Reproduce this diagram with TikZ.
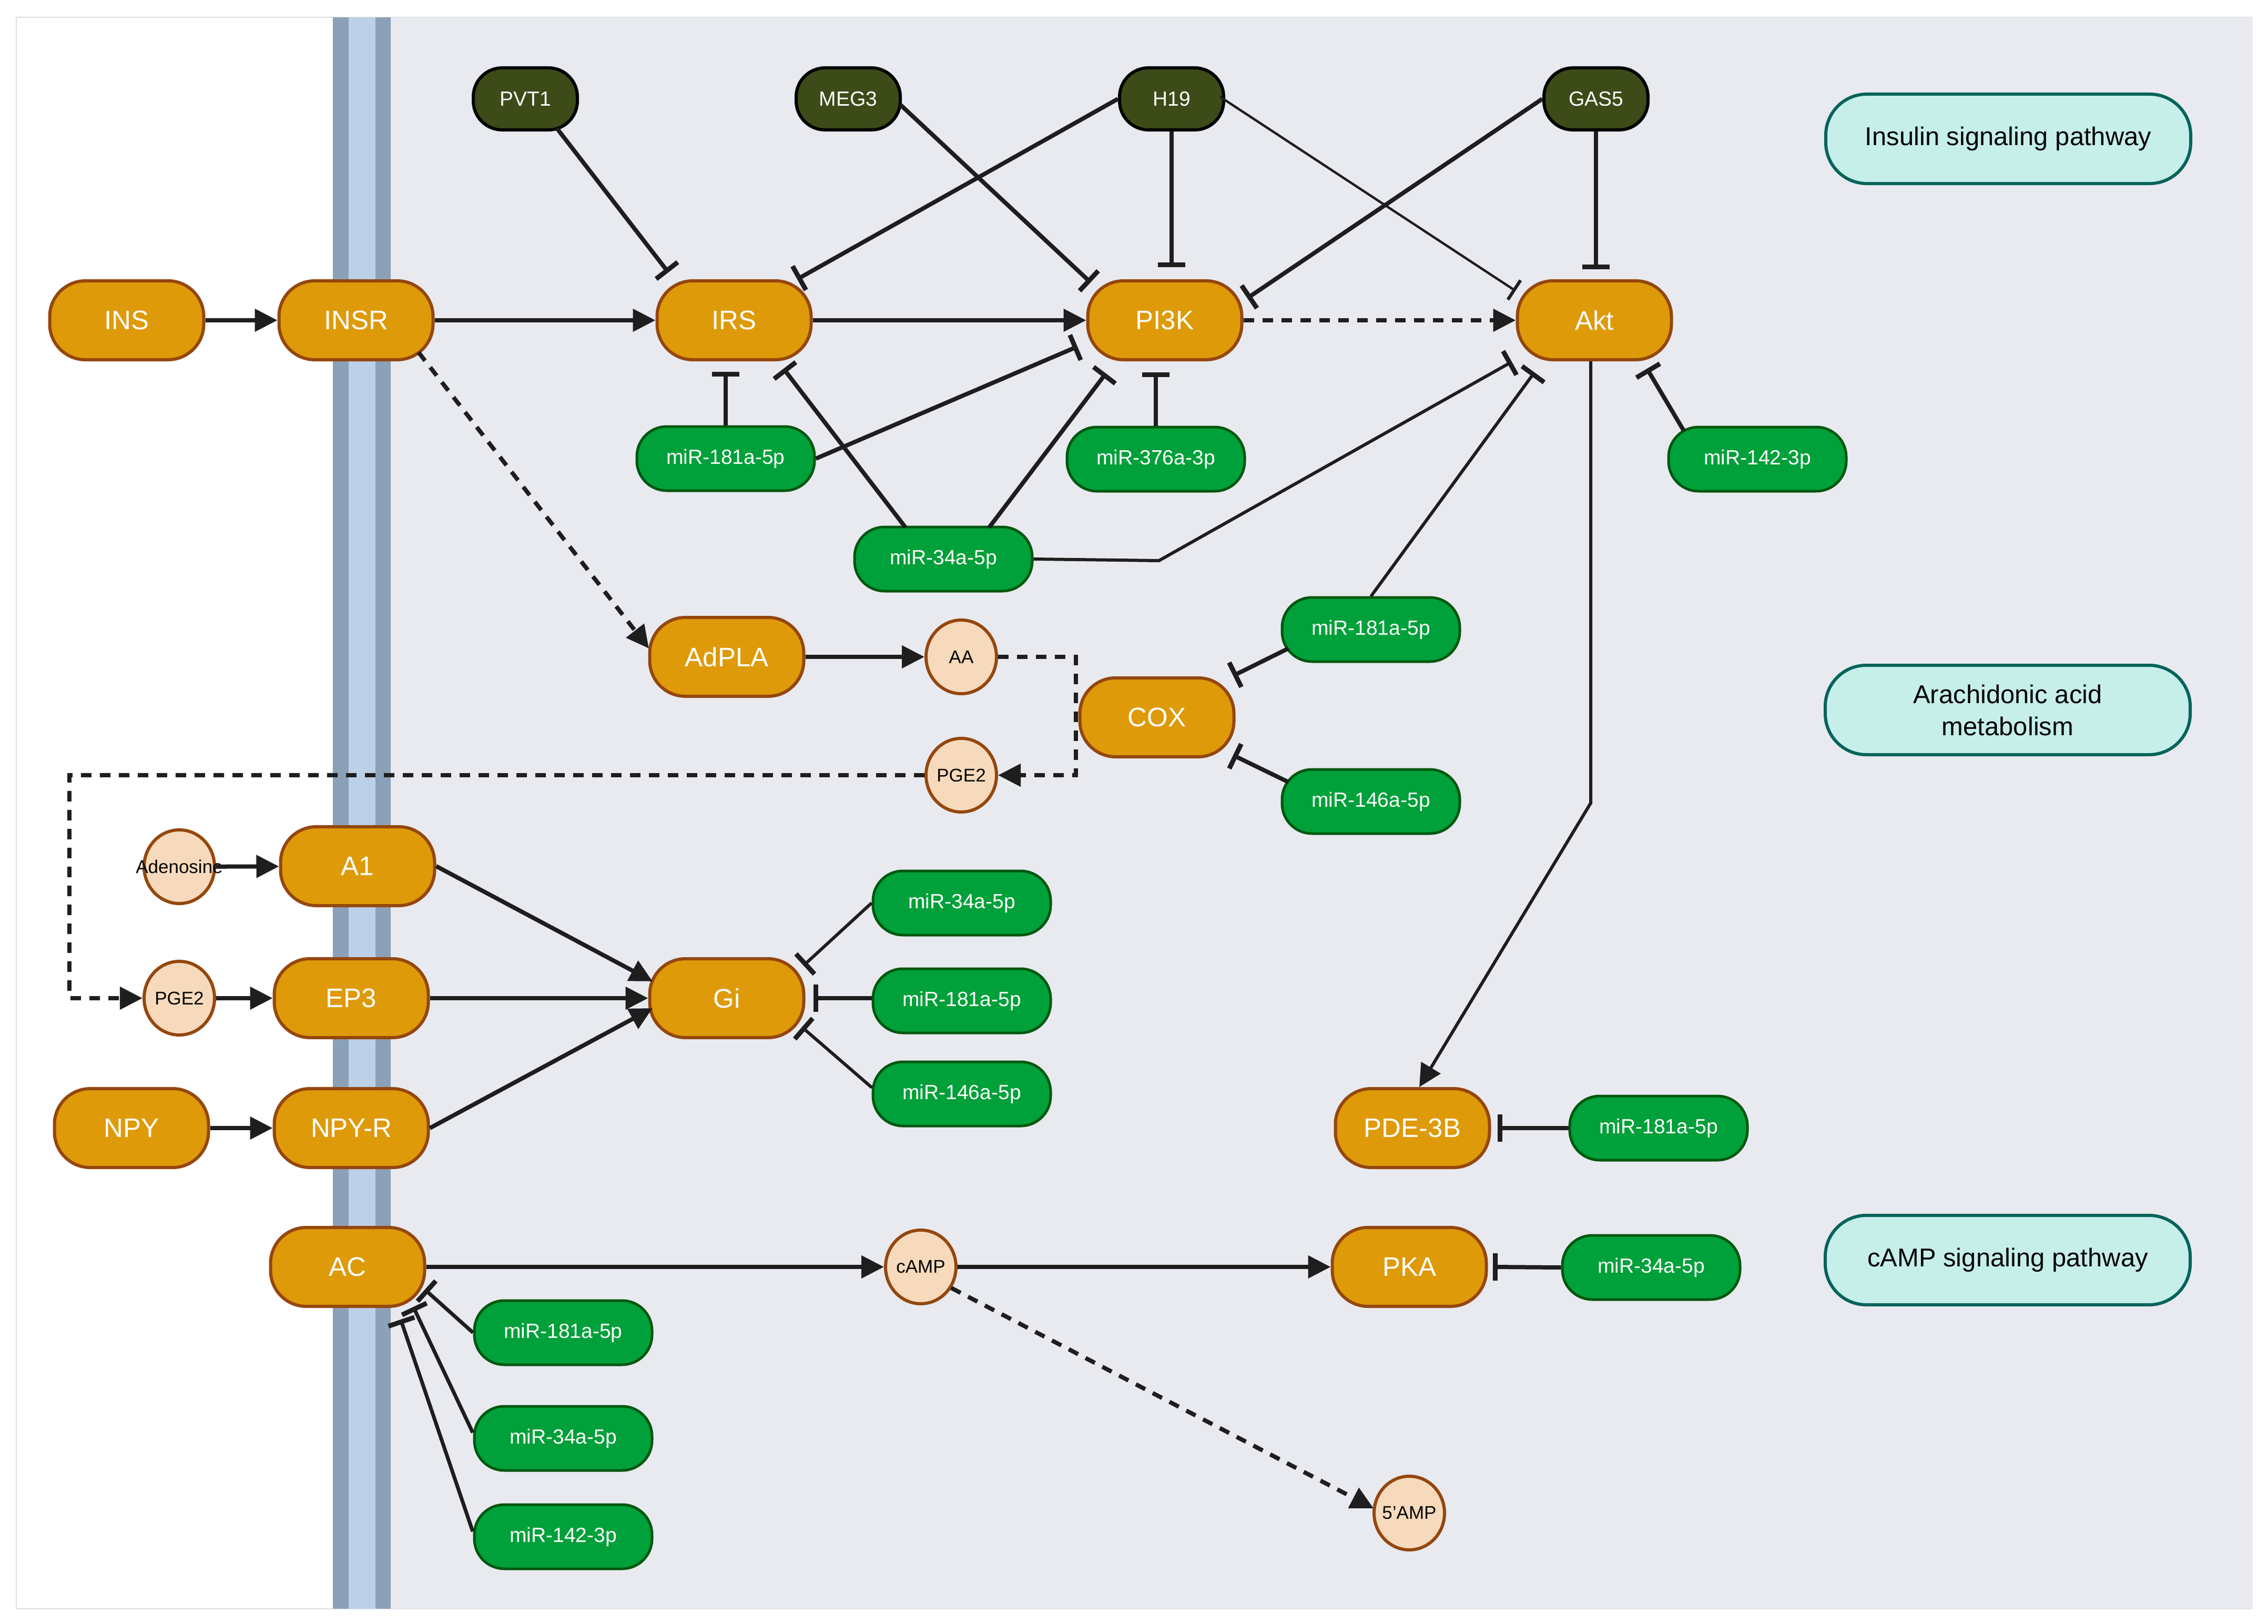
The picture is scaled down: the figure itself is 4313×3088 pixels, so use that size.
\documentclass[tikz,border=0pt]{standalone}
\usepackage{fontspec}
\setmainfont{Liberation Sans}
\usetikzlibrary{arrows.meta,calc,shapes.geometric}
\definecolor{orng}{HTML}{DE9A08}
\definecolor{obrd}{HTML}{94470E}
\definecolor{mgrn}{HTML}{00A03A}
\definecolor{dgrn}{HTML}{00570F}
\definecolor{oliv}{HTML}{3C4B18}
\definecolor{peach}{HTML}{F6DABB}
\definecolor{tealf}{HTML}{C6EFEA}
\definecolor{tealb}{HTML}{05645A}
\definecolor{bgg}{HTML}{E8EAF0}
\definecolor{memd}{HTML}{8BA1B7}
\definecolor{meml}{HTML}{BCD0E7}
\definecolor{lc}{HTML}{1E1E1E}
\definecolor{panelb}{HTML}{DDDDDD}
\begin{document}
\begin{tikzpicture}[x=1pt,y=-1pt,
  prot/.style={draw=obrd, fill=orng, line width=6pt, rounded corners=68pt,
    minimum width=293pt, minimum height=150pt, inner sep=0pt, text=white,
    font=\fontsize{51}{60}\selectfont},
  mir/.style={draw=dgrn, fill=mgrn, line width=5pt, rounded corners=57pt,
    minimum width=338pt, minimum height=122pt, inner sep=0pt, text=white,
    font=\fontsize{39}{46}\selectfont},
  lnc/.style={draw=black, fill=oliv, line width=6pt, rounded corners=55pt,
    minimum width=198pt, minimum height=118pt, inner sep=0pt, text=white,
    font=\fontsize{39}{46}\selectfont},
  met/.style={ellipse, draw=obrd, fill=peach, line width=6pt,
    minimum width=134pt, minimum height=140pt, inner sep=0pt, text=black,
    font=\fontsize{35}{42}\selectfont},
  lab/.style={draw=tealb, fill=tealf, line width=6pt, rounded corners=78pt,
    minimum width=694pt, minimum height=170pt, inner sep=0pt, align=center,
    text=black, font=\fontsize{49}{61}\selectfont},
  act/.style={line width=8pt, draw=lc, -{Triangle[length=43pt,width=42pt]}},
  inh/.style={line width=8pt, draw=lc, -{Bar[width=52pt,line width=9pt]}},
  thinh/.style={line width=4.5pt, draw=lc, -{Bar[width=44pt,line width=6pt]}},
  dsh/.style={dash pattern=on 20pt off 16pt}
]
\useasboundingbox (0,0) rectangle (4313,3088);
\fill[white] (0,0) rectangle (4313,3088);
\draw[draw=panelb, line width=2pt, fill=white] (31,33) rectangle (4282,3059);
\fill[bgg] (743,33) rectangle (4282,3059);
\fill[memd] (633,33) rectangle (743,3059);
\fill[meml] (663,33) rectangle (714,3059);

% proteins
\node[prot] (INS) at (241,609) {INS};
\node[prot] (INSR) at (677,609) {INSR};
\node[prot] (IRS) at (1396,609) {IRS};
\node[prot] (PI3K) at (2215,609) {PI3K};
\node[prot] (Akt) at (3032,609) {Akt};
\node[prot] (AdPLA) at (1382,1249) {AdPLA};
\node[prot] (COX) at (2200,1364) {COX};
\node[prot] (A1) at (680,1647) {A1};
\node[prot] (EP3) at (668,1898) {EP3};
\node[prot] (Gi) at (1382,1898) {Gi};
\node[prot] (NPY) at (250,2145) {NPY};
\node[prot] (NPYR) at (668,2145) {NPY-R};
\node[prot] (PDE) at (2686,2145) {PDE-3B};
\node[prot] (AC) at (661,2409) {AC};
\node[prot] (PKA) at (2680,2409) {PKA};

% lncRNAs
\node[lnc] (PVT1) at (999,188) {PVT1};
\node[lnc] (MEG3) at (1613,188) {MEG3};
\node[lnc] (H19) at (2228,188) {H19};
\node[lnc] (GAS5) at (3035,188) {GAS5};

% miRNAs
\node[mir] (g1) at (1380,872) {miR-181a-5p};
\node[mir] (g2) at (2198,873) {miR-376a-3p};
\node[mir] (g3) at (1794,1063) {miR-34a-5p};
\node[mir] (g4) at (3342,873) {miR-142-3p};
\node[mir] (g5) at (2607,1197) {miR-181a-5p};
\node[mir] (g6) at (2607,1524) {miR-146a-5p};
\node[mir] (g7) at (1829,1717) {miR-34a-5p};
\node[mir] (g8) at (1829,1903) {miR-181a-5p};
\node[mir] (g9) at (1829,2080) {miR-146a-5p};
\node[mir] (g10) at (3154,2145) {miR-181a-5p};
\node[mir] (g11) at (3140,2410) {miR-34a-5p};
\node[mir] (g12) at (1071,2534) {miR-181a-5p};
\node[mir] (g13) at (1071,2735) {miR-34a-5p};
\node[mir] (g14) at (1071,2922) {miR-142-3p};

% metabolites
\node[met] (Aden) at (341,1648) {\makebox[0pt]{Adenosine}};
\node[met] (PGE2a) at (341,1898) {\makebox[0pt]{PGE2}};
\node[met] (AA) at (1828,1249) {\makebox[0pt]{AA}};
\node[met] (PGE2b) at (1828,1474) {\makebox[0pt]{PGE2}};
\node[met] (cAMP) at (1751,2409) {\makebox[0pt]{cAMP}};
\node[met] (AMP5) at (2680,2877) {\makebox[0pt]{5'AMP}};

% pathway labels
\node[lab] (Lins) at (3819,264) {Insulin signaling pathway};
\node[lab] (Lara) at (3818,1350) {Arachidonic acid\\metabolism};
\node[lab] (Lcamp) at (3818,2396) {cAMP signaling pathway};

% activation arrows
\draw[act] (INS) -- (INSR);
\draw[act] (INSR) -- (IRS);
\draw[act] (IRS) -- (PI3K);
\draw[act,dsh] (PI3K) -- (Akt);
\draw[act,dsh] ([shift={(119,61)}]INSR.center) -- ([shift={(-148,-16)}]AdPLA.center);
\draw[act] (AdPLA) -- (AA);
\draw[act,dsh] (AA.east) -- ++(148,0) |- (PGE2b.east);
\coordinate (loopL) at (132,1477);
\draw[act,dsh] (PGE2b.west) -- (PGE2b.west -| loopL) |- (PGE2a.west);
\draw[act] (Aden) -- (A1);
\draw[act] (PGE2a) -- (EP3);
\draw[act] (NPY) -- (NPYR);
\draw[act] (A1.east) -- ([shift={(-141,-32)}]Gi.center);
\draw[act] (EP3) -- (Gi);
\draw[act] (NPYR.east) -- ([shift={(-141,19)}]Gi.center);
\draw[act] (AC) -- (cAMP);
\draw[act] (cAMP) -- (PKA);
\draw[act,dsh] ([shift={(58,40)}]cAMP.center) -- ([shift={(-68,-9)}]AMP5.center);
\draw[act,line width=6pt] ([xshift=-7pt]Akt.south) -- ++(0,840) -- ([shift={(13,-78)}]PDE.center);

% inhibitions
\draw[inh] ([shift={(60,56)}]PVT1.center) -- ([shift={(-125,-91)}]IRS.center);
\draw[inh] ([shift={(99,11)}]MEG3.center) -- ([shift={(-141,-72)}]PI3K.center);
\draw[inh] (H19.west) -- ([shift={(120,-78)}]IRS.center);
\draw[inh] (H19.south) -- ([shift={(13,-101)}]PI3K.center);
\draw[thinh] ([shift={(92,-4)}]H19.center) -- ([shift={(-150,-56)}]Akt.center);
\draw[inh] (GAS5.west) -- ([shift={(157,-42)}]PI3K.center);
\draw[inh] (GAS5.south) -- ([shift={(3,-97)}]Akt.center);
\draw[inh] (g1.north) -- ([shift={(-16,98)}]IRS.center);
\draw[inh] (g1.east) -- ([shift={(-166,50)}]PI3K.center);
\draw[inh] ([shift={(-72,-60)}]g3.center) -- ([shift={(94,92)}]IRS.center);
\draw[inh] ([shift={(87,-60)}]g3.center) -- ([shift={(-112,101)}]PI3K.center);
\draw[inh] (g2.north) -- ([shift={(-17,99)}]PI3K.center);
\draw[inh,line width=6pt] (g3.east) -- ([shift={(410,3)}]g3.center) -- ([shift={(-157,79)}]Akt.center);
\draw[inh,line width=6pt] ([shift={(0,-63)}]g5.center) -- ([shift={(-114,99)}]Akt.center);
\draw[inh] ([shift={(-140,-54)}]g4.center) -- ([shift={(100,92)}]Akt.center);
\draw[inh] ([shift={(-157,36)}]g5.center) -- ([shift={(145,-79)}]COX.center);
\draw[inh] ([shift={(-157,-37)}]g6.center) -- ([shift={(145,72)}]COX.center);
\draw[inh,line width=6pt] (g7.west) -- ([shift={(146,-62)}]Gi.center);
\draw[inh] (g8.west |- Gi) -- ([shift={(165,0)}]Gi.center);
\draw[inh,line width=6pt] ([shift={(-171,-12)}]g9.center) -- ([shift={(143,55)}]Gi.center);
\draw[inh] (g10.west) -- ([shift={(162,0)}]PDE.center);
\draw[inh] (g11.west) -- ([shift={(159,0)}]PKA.center);
\draw[inh,line width=7pt] (g12.west) -- ([shift={(147,43)}]AC.center);
\draw[inh,line width=7pt] ([shift={(-172,-11)}]g13.center) -- ([shift={(125,76)}]AC.center);
\draw[inh,line width=7pt] ([shift={(-172,-10)}]g14.center) -- ([shift={(101,100)}]AC.center);
\end{tikzpicture}
\end{document}
